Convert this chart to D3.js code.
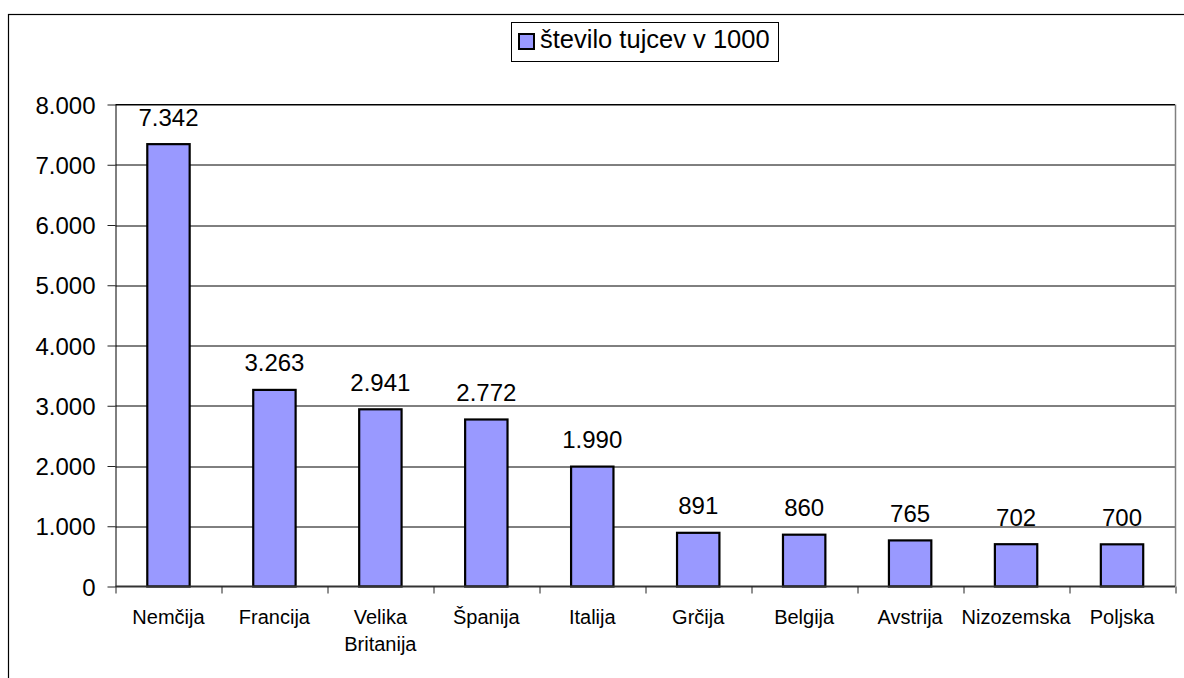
<!DOCTYPE html>
<html>
<head>
<meta charset="utf-8">
<script src="https://cdn.jsdelivr.net/npm/d3@7"></script>
<style>
	body { margin: 0; background: #fff; }
	svg { display: block; font-family: "Liberation Sans", Arial, sans-serif; }
</style>
</head>
<body>
<svg width="1184" height="678"></svg>
<script>
// data (foreigners, in thousands)
var countries = ["Nemčija", "Francija", "Velika Britanija", "Španija", "Italija", "Grčija", "Belgija", "Avstrija", "Nizozemska", "Poljska"];
var values = [7342, 3263, 2941, 2772, 1990, 891, 860, 765, 702, 700];
var yTicks = [0, 1000, 2000, 3000, 4000, 5000, 6000, 7000, 8000];
var seriesName = "število tujcev v 1000";

var svg = d3.select("svg"),
	margin = {top: 104.5, right: 9, bottom: 91.5, left: 115.5},
	width = +svg.attr("width") - margin.left - margin.right,
	height = +svg.attr("height") - margin.top - margin.bottom;

// thousands separator is a dot
var fmt = function(v) { return d3.format(",")(v).replace(/,/g, "."); };

// outer chart border (runs off the right and bottom of the picture)
svg.append("rect")
	.attr("x", 8.5)
	.attr("y", 14.5)
	.attr("width", 1300)
	.attr("height", 800)
	.attr("fill", "none")
	.attr("stroke", "#000")
	.attr("stroke-width", 1.2);

var g = svg.append("g")
	.attr("transform", "translate(" + margin.left + "," + margin.top + ")");

var x = d3.scaleBand()
	.domain(countries)
	.range([0, width])
	.paddingInner(0.6)
	.paddingOuter(0.3);

var y = d3.scaleLinear()
	.domain([0, 8000])
	.range([height, 0]);

// gridlines
g.append("g")
	.attr("class", "grid")
	.selectAll("line")
	.data(yTicks.slice(1))
	.enter().append("line")
	.attr("x1", 0)
	.attr("x2", width)
	.attr("y1", function(d) { return Math.round(y(d)) + 0.5; })
	.attr("y2", function(d) { return Math.round(y(d)) + 0.5; })
	.attr("stroke", "#000")
	.attr("stroke-width", 1);

// right border of plot area
g.append("line")
	.attr("x1", width + 0.5).attr("x2", width + 0.5)
	.attr("y1", 0).attr("y2", height)
	.attr("stroke", "#808080")
	.attr("stroke-width", 1.5);

// y axis
var yAxis = g.append("g")
	.call(d3.axisLeft(y).tickValues(yTicks).tickFormat(fmt).tickSize(8).tickSizeOuter(0).tickPadding(12));
yAxis.select(".domain").attr("stroke", "#000");
yAxis.selectAll(".tick line").attr("stroke", "#222");
yAxis.selectAll("text")
	.attr("font-size", 24)
	.attr("font-family", "Liberation Sans, Arial, sans-serif")
	.attr("fill", "#000")
	.attr("dy", "0.36em");

// bars
g.selectAll(".bar")
	.data(values)
	.enter().append("rect")
	.attr("class", "bar")
	.attr("x", function(d, i) { return x(countries[i]); })
	.attr("y", function(d) { return y(d); })
	.attr("width", x.bandwidth())
	.attr("height", function(d) { return height - y(d); })
	.attr("fill", "#9999ff")
	.attr("stroke", "#000")
	.attr("stroke-width", 2.2);

// value labels
g.selectAll(".value")
	.data(values)
	.enter().append("text")
	.attr("class", "value")
	.attr("x", function(d, i) { return x(countries[i]) + x.bandwidth() / 2; })
	.attr("y", function(d) { return y(d) - 18.5; })
	.attr("text-anchor", "middle")
	.attr("font-size", 24)
	.text(fmt);

// x axis: ticks sit on the category boundaries
var step = x.step();
var xAxis = g.append("g")
	.attr("transform", "translate(0," + height + ")");
xAxis.append("line")
	.attr("x1", 0).attr("x2", width)
	.attr("y1", 0).attr("y2", 0)
	.attr("stroke", "#333")
	.attr("stroke-width", 2);
xAxis.selectAll(".xtick")
	.data(d3.range(countries.length + 1))
	.enter().append("line")
	.attr("x1", function(i) { return Math.round(i * step) + 0.5; })
	.attr("x2", function(i) { return Math.round(i * step) + 0.5; })
	.attr("y1", 0)
	.attr("y2", 7)
	.attr("stroke", "#222");

var labels = xAxis.selectAll(".xlabel")
	.data(countries)
	.enter().append("text")
	.attr("class", "xlabel")
	.attr("x", function(d) { return x(d) + x.bandwidth() / 2; })
	.attr("y", 37)
	.attr("text-anchor", "middle")
	.attr("font-size", 20);
labels.each(function(d) {
	var words = d.split(" ");
	var t = d3.select(this);
	words.forEach(function(w, k) {
		t.append("tspan")
			.attr("x", t.attr("x"))
			.attr("dy", k === 0 ? 0 : 27)
			.text(w);
	});
});

// top border of plot area
g.append("line")
	.attr("x1", 0).attr("x2", width)
	.attr("y1", 0).attr("y2", 0)
	.attr("stroke", "#000");

// legend
var legend = svg.append("g")
	.attr("transform", "translate(511,22)");
legend.append("rect")
	.attr("x", 0.5).attr("y", 0.5)
	.attr("width", 267)
	.attr("height", 39)
	.attr("fill", "#fff")
	.attr("stroke", "#000");
legend.append("rect")
	.attr("x", 8).attr("y", 12)
	.attr("width", 15).attr("height", 15)
	.attr("fill", "#9999ff")
	.attr("stroke", "#000")
	.attr("stroke-width", 2);
legend.append("text")
	.attr("x", 29)
	.attr("y", 26)
	.attr("font-size", 25.5)
	.text(seriesName);
</script>
</body>
</html>
